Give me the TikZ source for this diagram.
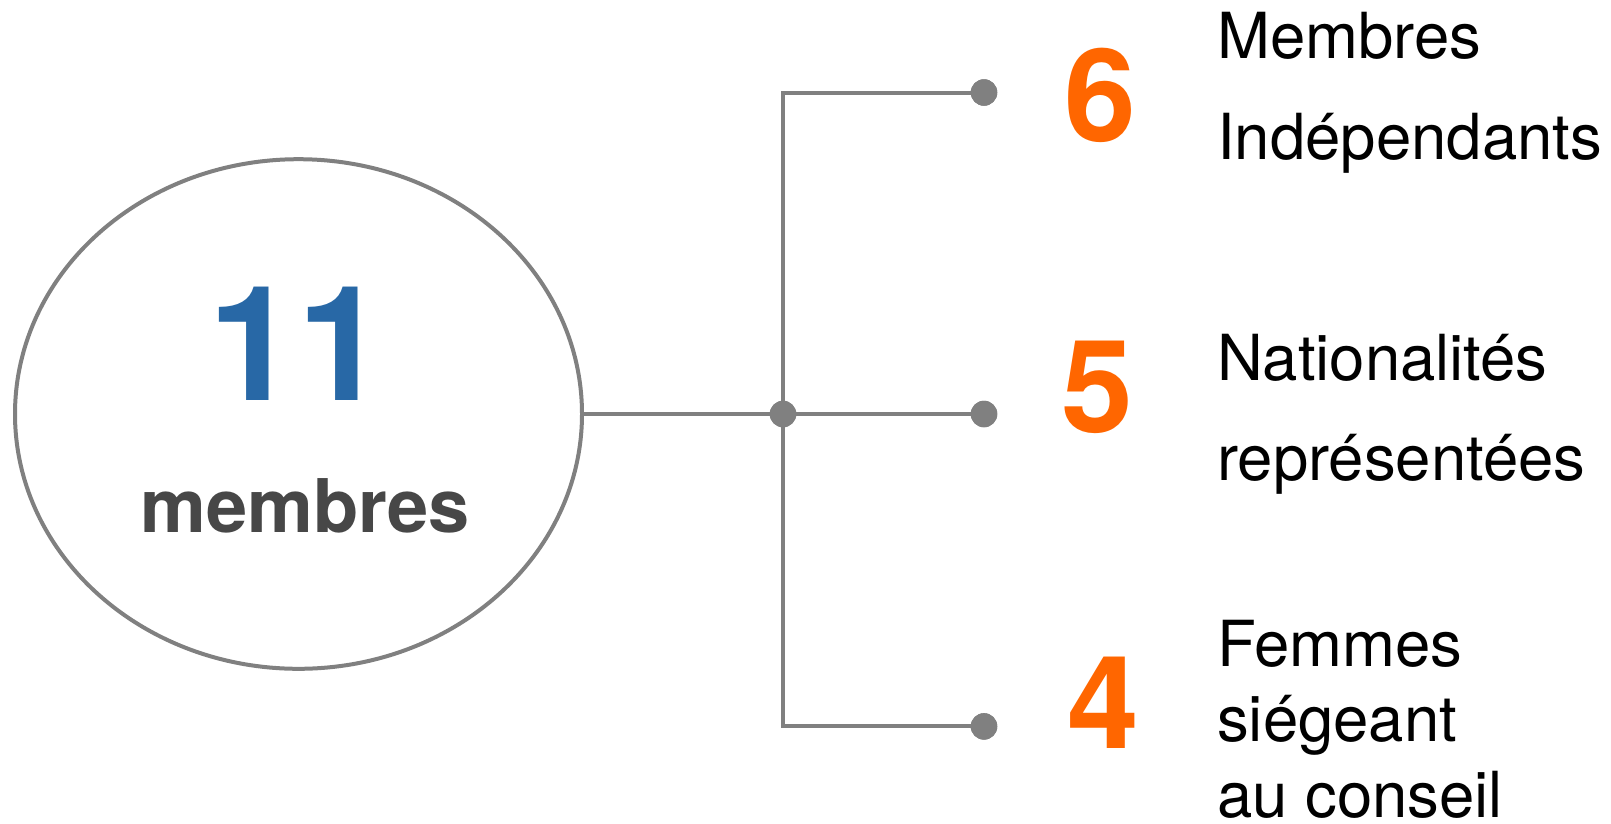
\documentclass[tikz,border=0pt]{standalone}
\usepackage{fontspec}
\setmainfont{TeX Gyre Heros}
\usetikzlibrary{shapes.geometric}
\definecolor{linegray}{RGB}{128,128,128}
\definecolor{numblue}{RGB}{40,104,166}
\definecolor{numorange}{RGB}{255,102,0}
\definecolor{darktext}{RGB}{71,71,71}
\begin{document}
\begin{tikzpicture}[x=1pt,y=-1pt,
  conn/.style={draw=linegray, line width=4pt},
  dotnode/.style={circle, fill=linegray, minimum size=26.5pt, inner sep=0pt},
  hubnode/.style={ellipse, draw=linegray, line width=4pt, minimum width=567pt, minimum height=509.6pt, inner sep=0pt},
  totalnum/.style={font=\fontsize{160pt}{160pt}\selectfont\bfseries, text=numblue, inner sep=0pt, anchor=base},
  totallabel/.style={font=\fontsize{74pt}{74pt}\selectfont\bfseries, text=darktext, inner sep=0pt, anchor=base},
  countnum/.style={font=\fontsize{129pt}{129pt}\selectfont\bfseries, text=numorange, inner sep=0pt, anchor=base},
  countlabel/.style={font=\fontsize{63.5pt}{63.5pt}\selectfont, text=black, inner sep=0pt, text depth=0pt, anchor=base west}
]
\useasboundingbox (0,0) rectangle (1611,823);

% central ellipse
\node[hubnode] (hub) at (298.5,414) {};
\node[totalnum] (n11) at (297.5,400.7) {11};
\node[totallabel] (mem) at (305,532) {membres};

% connectors
\coordinate (ctop) at (783,92.5);
\coordinate (cbot) at (783,726.4);
\node[dotnode] (junc) at (783,414) {};
\node[dotnode] (d1) at (984,92.5) {};
\node[dotnode] (d2) at (984,414) {};
\node[dotnode] (d3) at (984,726.4) {};

\draw[conn] (hub.east) -- (junc.center);
\draw[conn, line join=miter] (d1.center) -- (ctop) -- (cbot) -- (d3.center);
\draw[conn] (junc.center) -- (d2.center);
\node[dotnode] at (junc) {};
\node[dotnode] at (d1) {};
\node[dotnode] at (d2) {};
\node[dotnode] at (d3) {};

% counts
\node[countnum] (k6) at (1100,141.5) {6};
\node[countnum] (k5) at (1097,432) {5};
\node[countnum] (k4) at (1103,748) {4};

% labels
\node[countlabel] (l1a) at (1217,58.6) {Membres};
\node[countlabel] (l1b) at (1217,159) {Indépendants};
\node[countlabel] (l2a) at (1217,380) {Nationalités};
\node[countlabel] (l2b) at (1217,480) {représentées};
\node[countlabel] (l3a) at (1217,666) {Femmes};
\node[countlabel] (l3b) at (1217,741) {siégeant};
\node[countlabel] (l3c) at (1217,817) {au conseil};
\end{tikzpicture}
\end{document}
